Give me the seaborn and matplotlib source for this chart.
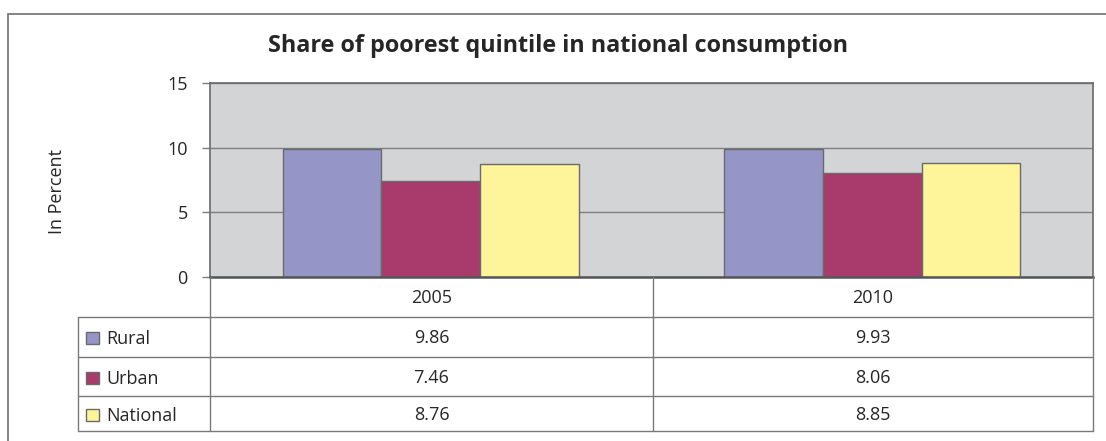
import pandas as pd
import matplotlib.pyplot as plt
import seaborn as sns
from matplotlib.patches import Rectangle
from matplotlib.lines import Line2D

sns.set_style("white")
plt.rcParams["font.family"] = ["Open Sans", "DejaVu Sans"]

# dados
anos = ["2005", "2010"]
areas = ["Rural", "Urban", "National"]
rural = [9.86, 9.93]
urban = [7.46, 8.06]
national = [8.76, 8.85]
cores = ["#9595C8", "#A83A6C", "#FEF49A"]

df = pd.DataFrame({
    "ano": anos * 3,
    "area": [a for a in areas for _ in anos],
    "valor": rural + urban + national,
})

W, H = 1106, 441
fig = plt.figure(figsize=(W / 100, H / 100), dpi=100)


def fx(x):
    return x / W


def fy(y):
    return 1 - y / H


# posição do gráfico em pixels
x0, x1, y0, y1 = 210, 1093, 83, 277
ax = fig.add_axes([fx(x0), fy(y1), fx(x1) - fx(x0), fy(y0) - fy(y1)])
ax.set_facecolor("#D3D4D6")

sns.barplot(data=df, x="ano", y="valor", hue="area", palette=cores,
            width=0.67, edgecolor="#6A6A6A", linewidth=1.0, ax=ax,
            legend=False, saturation=1)

fs = 13
ax.set_ylim(0, 15)
ax.set_yticks([0, 5, 10, 15])
ax.set_xlim(-0.5, 1.5)
ax.set_xticks([])
ax.set_xlabel("")
ax.set_ylabel("In Percent", fontsize=fs)
ax.yaxis.set_label_coords((66 - x0) / (x1 - x0), (y1 - 192) / (y1 - y0))
ax.yaxis.grid(True, color="#7F7F7F", linewidth=1)
ax.set_axisbelow(True)
ax.tick_params(axis="y", direction="out", length=6, width=1, color="#7F7F7F",
               pad=10, labelsize=fs, left=True)
for s in ["top", "right", "left"]:
    ax.spines[s].set_color("#6A6A6A")
    ax.spines[s].set_linewidth(1.2)
ax.spines["bottom"].set_color("#555555")
ax.spines["bottom"].set_linewidth(1.8)

fig.text(fx(558), fy(46), "Share of poorest quintile in national consumption",
         ha="center", va="center", fontsize=16.8, fontweight="bold")

# moldura externa
fig.patches.append(Rectangle((fx(7.5), fy(460)), fx(1120) - fx(7.5), fy(14) - fy(460),
                             transform=fig.transFigure, fill=False,
                             edgecolor="#6E6E6E", linewidth=1.2))

# tabela de dados
cor_linha = "#7A7A7A"
tx0, xm = 78, 653
linhas_y = [317, 357, 396, 431]


def linha(xs, ys):
    fig.lines.append(Line2D([fx(v) for v in xs], [fy(v) for v in ys],
                            transform=fig.transFigure, color=cor_linha, linewidth=1))


for yy in linhas_y:
    linha([tx0, x1], [yy, yy])
for xx in [x0, xm, x1]:
    linha([xx, xx], [y1, linhas_y[-1]])
linha([tx0, tx0], [linhas_y[0], linhas_y[-1]])

centros_x = [(x0 + xm) / 2, (xm + x1) / 2]
for cx, ano in zip(centros_x, anos):
    fig.text(fx(cx), fy(298), ano, ha="center", va="center", fontsize=fs)

valores = [rural, urban, national]
centros_y = [338, 378, 415]
for cy, nome, cor, vals in zip(centros_y, areas, cores, valores):
    fig.patches.append(Rectangle((fx(86), fy(cy + 6)), fx(99) - fx(86), fy(cy - 6) - fy(cy + 6),
                                 transform=fig.transFigure, facecolor=cor,
                                 edgecolor="#6A6A6A", linewidth=1))
    fig.text(fx(106), fy(cy + 1), nome, ha="left", va="center", fontsize=fs)
    for cx, v in zip(centros_x, vals):
        fig.text(fx(cx), fy(cy), f"{v:.2f}", ha="center", va="center", fontsize=fs)

fig.savefig("out.png", dpi=100)
